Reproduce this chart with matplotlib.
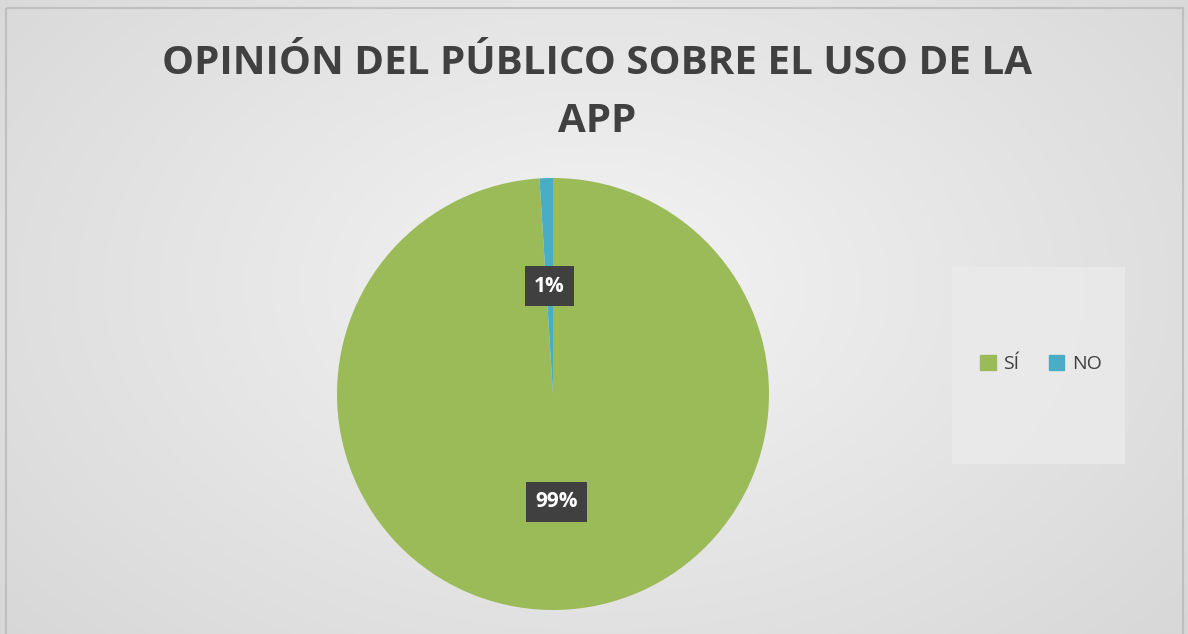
import numpy as np
import matplotlib.pyplot as plt
from matplotlib.patches import Rectangle

labels = ["SÍ", "NO"]
values = [99, 1]
colors = ["#9bbb59", "#4bacc6"]

W, H = 1188, 634
fig = plt.figure(figsize=(W / 100, H / 100), dpi=100)
fig.patch.set_facecolor("white")

# radial gradient background
bg = fig.add_axes([0, 0, 1, 1])
yy, xx = np.mgrid[0:H, 0:W]
r = np.sqrt(((xx - W * 0.5) / (W * 0.6)) ** 2 + ((yy - H * 0.45) / (H * 0.75)) ** 2)
shade = 0.955 - 0.1 * np.clip(r, 0, 1.2)
bg.imshow(np.dstack([shade] * 3), extent=[0, W, H, 0], aspect="auto")
bg.set_xlim(0, W)
bg.set_ylim(H, 0)
bg.add_patch(Rectangle((5.5, 7.5), W - 11, H, fill=False, edgecolor="#bfbfbf", lw=1.5))
# legend box
bg.add_patch(Rectangle((952, 267), 173, 197, facecolor="#ebebeb", edgecolor="none", alpha=0.8))
bg.axis("off")

bg.text(597, 63, "OPINIÓN DEL PÚBLICO SOBRE EL USO DE LA", ha="center", va="center",
        fontsize=29, fontweight="bold", family="Open Sans", color="#404040")
bg.text(597, 121, "APP", ha="center", va="center",
        fontsize=29, fontweight="bold", family="Open Sans", color="#404040")

# pie axes: center (553, 394), radius 216
R = 216
cx, cy = 553, 394
ax = fig.add_axes([(cx - R) / W, (H - cy - R) / H, 2 * R / W, 2 * R / H])
wedges, texts, autotexts = ax.pie(values, colors=colors, startangle=90, counterclock=False,
                                  autopct="%1.0f%%", pctdistance=0.5,
                                  textprops=dict(fontsize=15, fontweight="bold",
                                                 family="Open Sans", color="white"))
for t in autotexts:
    t.set_bbox(dict(boxstyle="square,pad=0.45", facecolor="#404040", edgecolor="none"))
ax.set_aspect("equal")
ax.set_xlim(-1, 1)
ax.set_ylim(-1, 1)

# legend
handles = [Rectangle((0, 0), 1, 1, color=c) for c in colors]
fig.legend(handles, labels, loc="center", bbox_to_anchor=(1041 / W, 1 - 364 / H),
           ncol=2, frameon=False, handlelength=0.8, handleheight=0.8,
           columnspacing=1.5, handletextpad=0.4,
           prop=dict(family="Open Sans", size=14), labelcolor="#404040")

fig.savefig("out.png", dpi=100)
